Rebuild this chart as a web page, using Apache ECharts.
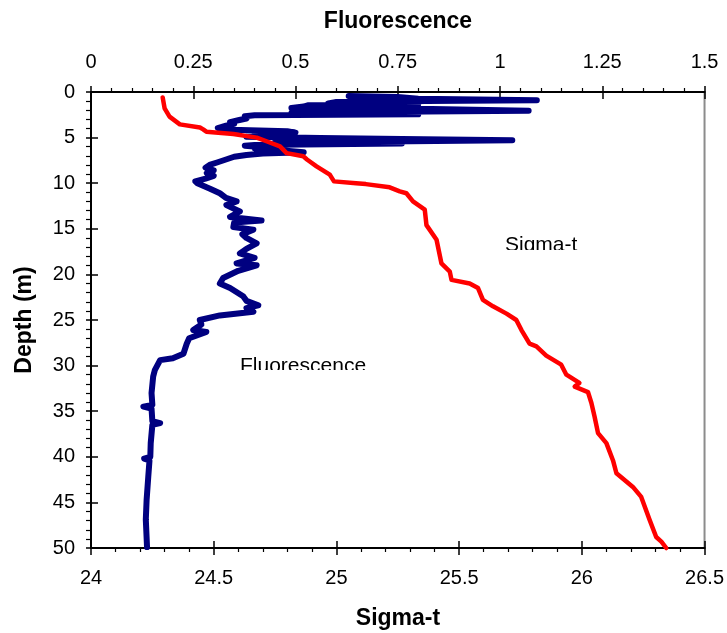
<!DOCTYPE html>
<html>
<head>
<meta charset="utf-8">
<script src="https://cdn.jsdelivr.net/npm/echarts@6/dist/echarts.min.js"></script>
<style>
html,body{margin:0;padding:0;background:#fff;}
#chart{width:727px;height:633px;}
</style>
</head>
<body>
<div id="chart"></div>
<script>
// ---- data ----
var fluorDepth = [0.45,0.55,0.75,0.9,1.0,1.1,1.25,1.35,1.45,1.6,1.75,1.85,2.05,2.15,2.3,2.45,2.55,2.65,2.9,3.1,3.3,3.5,3.7,3.95,4.1,4.3,4.45,4.6,4.75,4.9,5.05,5.15,5.3,5.4,5.5,5.65,5.8,5.9,6.05,6.2,6.4,6.6,6.75,6.9,7.1,7.4,7.7,8.0,8.3,8.6,8.9,9.2,9.5,9.8,10.0,10.6,11.1,11.6,12.0,12.4,13.1,13.7,14.1,14.3,14.8,15.1,15.6,16.0,16.6,17.2,17.7,18.2,18.8,19.0,19.6,20.4,21.0,21.5,22.4,22.9,23.4,23.7,24.1,24.5,25.0,25.5,26.1,26.3,27.0,27.6,28.7,29.2,29.4,30.5,31.2,33.0,34.3,34.5,34.7,36.1,36.3,36.5,38.5,40.0,40.2,40.4,42.2,44.7,46.9,49.9];
var fluorValue = [0.63,0.75,0.80,1.09,0.82,0.60,0.58,0.80,0.53,0.52,0.49,0.80,1.07,0.82,0.49,0.80,0.40,0.376,0.38,0.36,0.34,0.35,0.33,0.31,0.32,0.48,0.50,0.40,0.47,0.38,0.56,0.76,1.03,0.78,0.45,0.76,0.40,0.376,0.42,0.40,0.47,0.52,0.42,0.38,0.35,0.33,0.31,0.29,0.28,0.30,0.283,0.30,0.28,0.255,0.26,0.291,0.315,0.33,0.356,0.331,0.364,0.34,0.417,0.35,0.348,0.397,0.37,0.38,0.405,0.38,0.364,0.40,0.356,0.405,0.36,0.323,0.315,0.34,0.372,0.38,0.409,0.38,0.397,0.315,0.266,0.27,0.25,0.282,0.24,0.234,0.226,0.20,0.169,0.156,0.152,0.148,0.15,0.128,0.148,0.15,0.169,0.15,0.146,0.145,0.130,0.143,0.140,0.136,0.134,0.137];

var sigmaDepth = [0.6,1.8,2.7,3.55,3.9,4.1,4.35,4.6,5.0,5.4,5.96,6.7,7.05,7.4,8.15,9.06,9.8,10.0,10.1,10.45,10.9,11.1,12.0,12.9,14.6,16.2,18.8,19.7,20.6,21.0,21.5,22.8,23.5,24.3,25.0,26.1,27.6,27.9,28.9,29.9,31.0,31.9,32.3,32.9,34.1,35.6,37.4,38.5,40.4,41.8,43.3,44.4,46.9,48.8,49.3,50.0];
var sigmaValue = [24.292,24.30,24.32,24.362,24.444,24.457,24.47,24.58,24.675,24.715,24.77,24.797,24.865,24.88,24.919,24.973,24.99,25.08,25.12,25.217,25.258,25.285,25.312,25.36,25.367,25.408,25.428,25.462,25.469,25.543,25.577,25.597,25.638,25.693,25.733,25.754,25.787,25.815,25.855,25.916,25.937,25.99,25.971,26.025,26.039,26.052,26.066,26.10,26.127,26.141,26.208,26.242,26.276,26.303,26.324,26.344];

var sigmaRange = [24, 26.5, 0.5];
var fluorRange = [0, 1.5, 0.25];
var depthRange = [0, 50, 5];

var fluorPts = fluorDepth.map(function(d,i){return [fluorValue[i], d];});
var sigmaPts = sigmaDepth.map(function(d,i){return [sigmaValue[i], d];});

var FONT = 'Liberation Sans, Arial, sans-serif';
var lineBlack = {color:'#000', width:2};
var tickStyle = {color:'#000', width:1.5};

function mainAxis(pos, range, extra){
  var a = {
    type:'value', position:pos, min:range[0], max:range[1], interval:range[2],
    axisLine:{show:true, onZero:false, lineStyle:lineBlack},
    axisTick:{show:true, inside:false, length:6, lineStyle:tickStyle},
    minorTick:{show:true, splitNumber:5, length:4, lineStyle:{color:'#000', width:1.2}},
    splitLine:{show:false}, minorSplitLine:{show:false},
    axisLabel:{show:true, color:'#000', fontSize:20, fontFamily:FONT, margin:20}
  };
  for (var k in extra) a[k] = extra[k];
  return a;
}
function innerAxis(pos, range, extra){
  var a = {
    type:'value', position:pos, min:range[0], max:range[1], interval:range[2],
    axisLine:{show:false, onZero:false},
    axisTick:{show:true, inside:true, length:7, lineStyle:tickStyle},
    minorTick:{show:false}, splitLine:{show:false},
    axisLabel:{show:false}
  };
  for (var k in extra) a[k] = extra[k];
  return a;
}

var chart = echarts.init(document.getElementById('chart'), null, {renderer:'canvas'});
var yMain = mainAxis('left', depthRange, {inverse:true});
yMain.axisTick.length = 5; yMain.minorTick.length = 5; yMain.axisLabel.margin = 16;
var xTop = mainAxis('top', fluorRange, {});
xTop.axisLabel.margin = 20;
var xBot = mainAxis('bottom', sigmaRange, {});
xBot.axisTick.length = 7;

chart.setOption({
  animation:false,
  backgroundColor:'#fff',
  grid:{left:91, right:22, top:92, bottom:85, show:true, borderColor:'#8c8c8c', borderWidth:2, backgroundColor:'transparent'},
  xAxis:[
    xBot,
    innerAxis('bottom', sigmaRange, {}),
    xTop,
    innerAxis('top', fluorRange, {})
  ],
  yAxis:[
    yMain,
    innerAxis('left', depthRange, {inverse:true})
  ],
  series:[
    {name:'Fluorescence', type:'line', xAxisIndex:2, yAxisIndex:0, data:fluorPts,
     showSymbol:false, symbol:'none', clip:false, z:2,
     lineStyle:{color:'#000080', width:6, cap:'round', join:'round'}},
    {name:'Sigma-t', type:'line', xAxisIndex:0, yAxisIndex:0, data:sigmaPts,
     showSymbol:false, symbol:'none', clip:false, z:3,
     lineStyle:{color:'#ff0000', width:4.5, cap:'round', join:'round'}}
  ],
  graphic:[
    {type:'text', style:{text:'Fluorescence', x:398, y:22, align:'center', verticalAlign:'middle', font:'bold 23px '+FONT, fill:'#000'}, z:10},
    {type:'text', style:{text:'Sigma-t', x:398, y:619, align:'center', verticalAlign:'middle', font:'bold 23px '+FONT, fill:'#000'}, z:10},
    {type:'text', x:25, y:320, rotation:Math.PI/2, style:{text:'Depth (m)', x:0, y:0, align:'center', verticalAlign:'middle', font:'bold 23px '+FONT, fill:'#000'}, z:10},
    {type:'text', style:{text:'Sigma-t', x:505, y:235, align:'left', verticalAlign:'top', font:'21px '+FONT, fill:'#000'}, z:10},
    {type:'rect', shape:{x:500, y:250, width:90, height:12}, style:{fill:'#fff'}, z:11},
    {type:'text', style:{text:'Fluorescence', x:240, y:356, align:'left', verticalAlign:'top', font:'21px '+FONT, fill:'#000'}, z:10},
    {type:'rect', shape:{x:235, y:370, width:140, height:12}, style:{fill:'#fff'}, z:11}
  ]
});
</script>
</body>
</html>
